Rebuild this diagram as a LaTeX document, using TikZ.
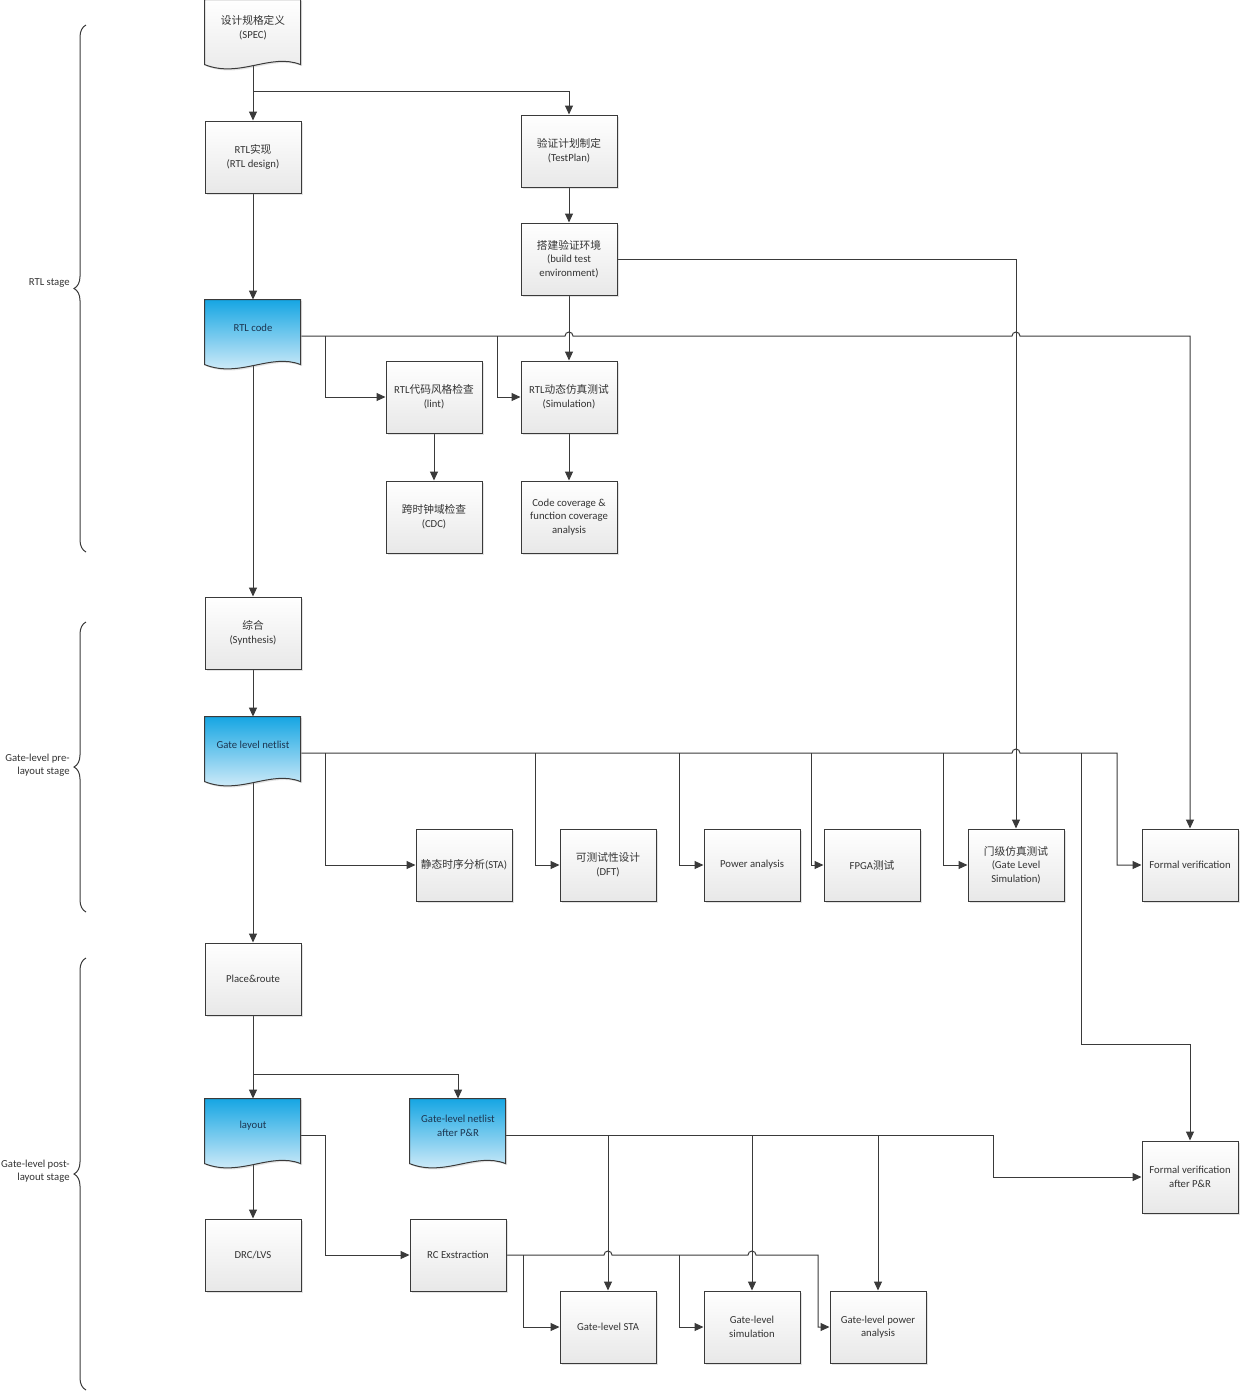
\documentclass[tikz,border=0pt]{standalone}
\usepackage{fontspec}
\setmainfont{Carlito}
\newfontfamily\cjk{Noto Sans CJK SC}
\usetikzlibrary{arrows.meta,shadows,decorations.pathreplacing,calc}
\definecolor{ln}{HTML}{3A3A3A}
\definecolor{txt}{HTML}{333333}
\definecolor{bluetop}{HTML}{16A6E3}
\definecolor{bluebot}{HTML}{E6F3FB}
\definecolor{navy}{HTML}{1C3550}
\pgfdeclarelayer{bg}\pgfsetlayers{bg,main}
\newcommand\fs{\fontsize{5.35pt}{6.8pt}\selectfont}
\tikzset{
  shad/.style={drop shadow={shadow xshift=0.8pt,shadow yshift=-0.8pt,opacity=0.22}},
  box/.style={draw=ln, line width=0.5pt, top color=white, bottom color=black!9,
    minimum width=48pt, minimum height=36pt, inner sep=1pt, align=center,
    font=\fs, text=txt, shad},
  docnode/.style={minimum width=48pt, minimum height=36pt, inner sep=0pt},
  doctext/.style={align=center, font=\fs, inner sep=0pt},
  grayfill/.style={draw=ln, line width=0.5pt, top color=white, bottom color=black!9, shad},
  bluefill/.style={draw=ln, line width=0.5pt, top color=bluetop, bottom color=bluebot, shad},
  arr/.style={draw=ln, line width=0.5pt, -{Triangle[length=4.5pt,width=4pt]}},
  stagebrace/.style={draw=ln, line width=0.5pt, decorate, decoration={brace, amplitude=6pt}},
  stagelabel/.style={anchor=east, align=right, font=\fs, text=txt, inner sep=0pt},
}
\newcommand\docshape[2]{%
  \path[#1] (#2.north west) -- ++(96,0) -- ++(0,65)
    .. controls +(-30,-12) and +(35,14) .. ++(-96,0) -- cycle;}
\begin{document}
\begin{tikzpicture}[x=0.5pt,y=-0.5pt]
\useasboundingbox (0,0) rectangle (1240,1393);

% stage braces
\draw[stagebrace] (86,552) -- (86,25);
\node[stagelabel] (l1) at (70,283) {RTL stage};
\draw[stagebrace] (86,912) -- (86,622);
\node[stagelabel] (l2) at (70,765) {Gate-level pre-\\layout stage};
\draw[stagebrace] (86,1390) -- (86,958);
\node[stagelabel] (l3) at (70,1171) {Gate-level post-\\layout stage};

% document shapes
\node[docnode] (spec) at (253,36) {};
\docshape{grayfill}{spec}
\node[doctext,text=txt] (spec-t) at ([yshift=4pt]spec.center) {{\cjk 设计规格定义}\\(SPEC)};

\node[docnode] (rtlcode) at (253,336) {};
\docshape{bluefill}{rtlcode}
\node[doctext,text=navy] (rtlcode-t) at ([yshift=4pt]rtlcode.center) {RTL code};

\node[docnode] (gln) at (253,753) {};
\docshape{bluefill}{gln}
\node[doctext,text=navy] (gln-t) at ([yshift=4pt]gln.center) {Gate level netlist};

\node[docnode] (layout) at (253,1135) {};
\docshape{bluefill}{layout}
\node[doctext,text=navy] (layout-t) at ([yshift=4.5pt]layout.center) {layout};

\node[docnode] (glnpr) at (458,1135) {};
\docshape{bluefill}{glnpr}
\node[doctext,text=navy] (glnpr-t) at ([yshift=4.5pt]glnpr.center) {Gate-level netlist\\after P\&R};

% boxes
\node[box] (rtldes) at (253,157) {RTL{\cjk 实现}\\(RTL design)};
\node[box] (plan) at (569,151) {{\cjk 验证计划制定}\\(TestPlan)};
\node[box] (env) at (569,259) {{\cjk 搭建验证环境}\\(build test\\environment)};
\node[box] (lint) at (434,397) {RTL{\cjk 代码风格检查}\\(lint)};
\node[box] (sim) at (569,397) {RTL{\cjk 动态仿真测试}\\(Simulation)};
\node[box] (cdc) at (434,517) {{\cjk 跨时钟域检查}\\(CDC)};
\node[box] (cov) at (569,517) {Code coverage \&\\function coverage\\analysis};
\node[box] (syn) at (253,633) {{\cjk 综合}\\(Synthesis)};
\node[box] (sta) at (464,865) {{\cjk 静态时序分析}(STA)};
\node[box] (dft) at (608,865) {{\cjk 可测试性设计}\\(DFT)};
\node[box] (pwr) at (752,865) {Power analysis};
\node[box] (fpga) at (872,865) {FPGA{\cjk 测试}};
\node[box] (gls) at (1016,865) {{\cjk 门级仿真测试}\\(Gate Level\\Simulation)};
\node[box] (fv) at (1190,865) {Formal verification};
\node[box] (pr) at (253,979) {Place\&route};
\node[box] (fvpr) at (1190,1177) {Formal verification\\after P\&R};
\node[box] (drc) at (253,1255) {DRC/LVS};
\node[box] (rc) at (458,1255) {RC Exstraction};
\node[box] (gsta) at (608,1327) {Gate-level STA};
\node[box] (gsim) at (752,1327) {Gate-level\\simulation};
\node[box] (gpwr) at (878,1327) {Gate-level power\\analysis};

% connectors
\begin{pgfonlayer}{bg}
\draw[arr] (spec.center) -- (rtldes.north);
\draw[arr] (253,91) -| (plan.north);
\draw[arr] (rtldes.south) -- (rtlcode.north);
\draw[arr] (plan.south) -- (env.north);
\draw[arr] (env.south) -- (sim.north);
\draw[arr] (env.east) -| (gls.north);
\draw[arr] (rtlcode.east) -- (565,336) arc[start angle=180,end angle=0,radius=2pt]
  -- (1012,336) arc[start angle=180,end angle=0,radius=2pt] -| (fv.north);
\draw[arr] (325,336) |- (lint.west);
\draw[arr] (497,336) |- (sim.west);
\draw[arr] (lint.south) -- (cdc.north);
\draw[arr] (sim.south) -- (cov.north);
\draw[arr] (rtlcode.center) -- (syn.north);
\draw[arr] (syn.south) -- (gln.north);
\draw[arr] (gln.east) -- (1012,753) arc[start angle=180,end angle=0,radius=2pt]
  -- (1117,753) |- (fv.west);
\draw[arr] (325,753) |- (sta.west);
\draw[arr] (535,753) |- (dft.west);
\draw[arr] (679,753) |- (pwr.west);
\draw[arr] (811,753) |- (fpga.west);
\draw[arr] (943,753) |- (gls.west);
\draw[arr] (1081,753) -- (1081,1044) -| (fvpr.north);
\draw[arr] (gln.center) -- (pr.north);
\draw[arr] (pr.south) -- (layout.north);
\draw[arr] (253,1074) -| (glnpr.north);
\draw[arr] (layout.center) -- (drc.north);
\draw[arr] (layout.east) -- (325,1135) |- (rc.west);
\draw[arr] (glnpr.east) -- (993,1135) |- (fvpr.west);
\draw[arr] (608,1135) -- (gsta.north);
\draw[arr] (752,1135) -- (gsim.north);
\draw[arr] (878,1135) -- (gpwr.north);
\draw[arr] (rc.east) -- (604,1255) arc[start angle=180,end angle=0,radius=2pt]
  -- (748,1255) arc[start angle=180,end angle=0,radius=2pt] -- (818,1255) |- (gpwr.west);
\draw[arr] (523,1255) |- (gsta.west);
\draw[arr] (679,1255) |- (gsim.west);
\end{pgfonlayer}
\end{tikzpicture}
\end{document}
